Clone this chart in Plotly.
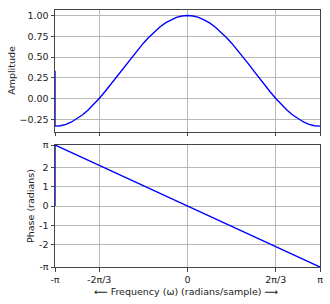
import numpy as np
import plotly.graph_objects as go
from plotly.subplots import make_subplots

PI = np.pi
# frequency grid: multiples of pi/24, with the extra first sample at -pi
freq_steps = [-24] + list(range(-24, 25))
freq = [s * PI / 24 for s in freq_steps]

amp_half = [-0.333, -0.328, -0.311, -0.283, -0.244, -0.196, -0.138, -0.073,
            0.000, 0.078, 0.161, 0.246, 0.333, 0.420, 0.506, 0.588, 0.667,
            0.739, 0.805, 0.862, 0.911, 0.949, 0.977, 0.994]
amplitude = [0.333] + amp_half + [1.000] + amp_half[::-1]

phase_freq = [-PI, -PI, PI]
phase = [0.0, PI, -PI]

x_tickvals = [-PI, -2 * PI / 3, 0, 2 * PI / 3, PI]
x_ticktext = ["-π", "-2π/3", "0", "2π/3", "π"]
amp_tickvals = [-0.25, 0.0, 0.25, 0.5, 0.75, 1.0]
amp_ticktext = ["−0.25", "0.00", "0.25", "0.50", "0.75", "1.00"]
ph_tickvals = [-PI, -2, -1, 0, 1, 2, PI]
ph_ticktext = ["-π", "-2", "-1", "0", "1", "2", "π"]

fig = make_subplots(rows=2, cols=1)
fig.add_trace(go.Scatter(x=freq, y=amplitude, mode="lines", cliponaxis=False,
                         line=dict(color="#0000ff", width=1.4)), row=1, col=1)
fig.add_trace(go.Scatter(x=phase_freq, y=phase, mode="lines", cliponaxis=False,
                         line=dict(color="#0000ff", width=1.4)), row=2, col=1)

font = dict(family="DejaVu Sans", size=9.5, color="#222")
axis_common = dict(showline=True, mirror=True, linecolor="#444", linewidth=1,
                   showgrid=True, gridcolor="#b8b8b8", gridwidth=0.8,
                   ticks="outside", ticklen=3.5, tickcolor="#444", tickwidth=1,
                   zeroline=False, tickfont=font, layer="below traces",
                   automargin=False)

top_dom = [0.5265, 1]
bot_dom = [0, 0.4747]

fig.update_layout(
    width=330, height=304, showlegend=False,
    margin=dict(l=55, r=10, t=10, b=37, autoexpand=False),
    plot_bgcolor="white", paper_bgcolor="white",
    font=font,
    xaxis=dict(domain=[0, 1], range=[-PI, PI], tickvals=x_tickvals,
               showticklabels=False, **axis_common),
    yaxis=dict(domain=top_dom, range=[-0.4, 1.0667], tickvals=amp_tickvals,
               ticktext=amp_ticktext, **axis_common),
    xaxis2=dict(domain=[0, 1], range=[-PI, PI], tickvals=x_tickvals,
                ticktext=x_ticktext, **axis_common),
    yaxis2=dict(domain=bot_dom, range=[-PI, PI], tickvals=ph_tickvals,
                ticktext=ph_ticktext, **axis_common),
)

fig.add_annotation(text="Amplitude", xref="paper", yref="paper",
                   x=0, y=sum(top_dom) / 2, xshift=-43, textangle=-90,
                   showarrow=False, xanchor="center", yanchor="middle", font=font)
fig.add_annotation(text="Phase (radians)", xref="paper", yref="paper",
                   x=0, y=sum(bot_dom) / 2, xshift=-25, textangle=-90,
                   showarrow=False, xanchor="center", yanchor="middle", font=font)
fig.add_annotation(text="⟵ Frequency (ω) (radians/sample) ⟶", xref="paper", yref="paper",
                   x=0.5, y=0, xshift=-2, yshift=-24,
                   showarrow=False, xanchor="center", yanchor="middle", font=font)

fig.write_html("out.html")
